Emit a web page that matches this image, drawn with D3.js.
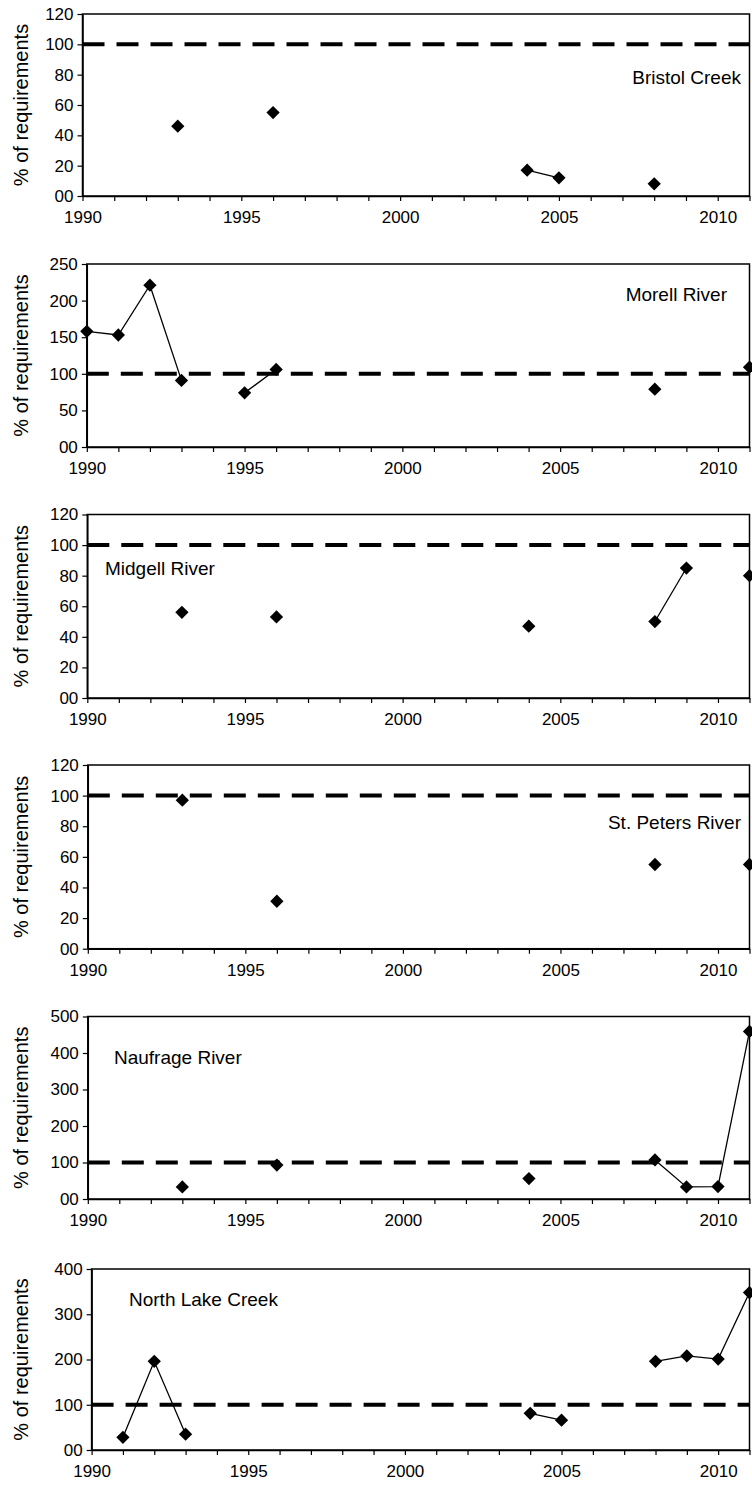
<!DOCTYPE html>
<meta charset="utf-8">
<head>
    <meta charset="utf-8">
    <title>% of requirements by river</title>
    <script src="https://d3js.org/d3.v7.min.js"></script>
    <style>
        body {
            margin: 0;
            background: #fff;
            font-family: 'Liberation Sans', Arial, sans-serif;
        }
    </style>
</head>
<body>
<div id="my_dataviz"></div>
<script>
    // Data: one value per year, null where there was no survey
    var years = [1990, 1991, 1992, 1993, 1994, 1995, 1996, 1997, 1998, 1999, 2000,
                 2001, 2002, 2003, 2004, 2005, 2006, 2007, 2008, 2009, 2010, 2011];
    var bristolCreek   = [null, null, null, 46, null, null, 55, null, null, null, null,
                          null, null, null, 17, 12, null, null, 8, null, null, null];
    var morellRiver    = [158, 153, 221, 91, null, 74, 106, null, null, null, null,
                          null, null, null, null, null, null, null, 79, null, null, 109];
    var midgellRiver   = [null, null, null, 56, null, null, 53, null, null, null, null,
                          null, null, null, 47, null, null, null, 50, 85, null, 80];
    var stPetersRiver  = [null, null, null, 97, null, null, 31, null, null, null, null,
                          null, null, null, null, null, null, null, 55, null, null, 55];
    var naufrageRiver  = [null, null, null, 33, null, null, 93, null, null, null, null,
                          null, null, null, 56, null, null, null, 107, 33, 34, 459];
    var northLakeCreek = [null, 28, 196, 35, null, null, null, null, null, null, null,
                          null, null, null, 81, 66, null, null, 196, 208, 201, 348];

    var panelNames = ["Bristol Creek", "Morell River", "Midgell River",
                      "St. Peters River", "Naufrage River", "North Lake Creek"];
    var panelSeries = [bristolCreek, morellRiver, midgellRiver,
                       stPetersRiver, naufrageRiver, northLakeCreek];
    var yMax = [120, 250, 120, 120, 500, 400];
    var yStep = [20, 50, 20, 20, 100, 100];
    var requirement = 100;
    var xLabelYears = [1990, 1995, 2000, 2005, 2010];

    // Layout of each panel (pixels)
    var layout = [
        {top: 14,   bottom: 196,  left: 82.5, labelX: 741, labelY: 70, anchor: "end"},
        {top: 264,  bottom: 447,  left: 86.8, labelX: 727, labelY: 37, anchor: "end"},
        {top: 514.5,bottom: 698,  left: 87.3, labelX: 105, labelY: 60, anchor: "start"},
        {top: 765,  bottom: 948.7,left: 87.8, labelX: 741, labelY: 64, anchor: "end"},
        {top: 1016.5,bottom: 1199,left: 87.8, labelX: 114, labelY: 47, anchor: "start"},
        {top: 1269, bottom: 1450, left: 91.6, labelX: 129, labelY: 37, anchor: "start"}
    ];
    var right = 749.5;

    var svg = d3.select("#my_dataviz")
        .append("svg")
        .attr("width", 752)
        .attr("height", 1485);

    panelNames.forEach(function(name, i) {
        var L = layout[i];
        var w = right - L.left,
            h = L.bottom - L.top;

        var g = svg.append("g")
            .attr("transform", "translate(" + L.left + "," + L.top + ")");

        var x = d3.scaleLinear().domain([1990, 2011]).range([0, w]);
        var y = d3.scaleLinear().domain([0, yMax[i]]).range([h, 0]);

        // frame (top + right)
        g.append("rect")
            .attr("width", w)
            .attr("height", h)
            .attr("fill", "none")
            .attr("stroke", "#000")
            .attr("stroke-width", 1.5);

        // X axis: a tick every year, labels every 5 years
        var xAxis = g.append("g")
            .attr("transform", "translate(0," + h + ")")
            .call(d3.axisBottom(x)
                .tickValues(years)
                .tickSize(5)
                .tickSizeOuter(0)
                .tickPadding(10)
                .tickFormat(function(d) { return xLabelYears.indexOf(d) >= 0 ? d : ""; }));

        // Y axis
        var yAxis = g.append("g")
            .call(d3.axisLeft(y)
                .tickValues(d3.range(0, yMax[i] + 1, yStep[i]))
                .tickSize(5)
                .tickSizeOuter(0)
                .tickPadding(4)
                .tickFormat(function(d) { return d === 0 ? "00" : d; }));

        [xAxis, yAxis].forEach(function(a) {
            a.select(".domain").attr("stroke-width", 1.5);
            a.selectAll(".tick line").attr("stroke-width", 1.2);
            a.selectAll("text")
                .attr("font-family", "'Liberation Sans', Arial, sans-serif")
                .attr("font-size", 17)
                .attr("fill", "#000");
        });

        // 100% requirement line
        g.append("line")
            .attr("x1", 0)
            .attr("x2", w)
            .attr("y1", y(requirement))
            .attr("y2", y(requirement))
            .attr("stroke", "#000")
            .attr("stroke-width", 4)
            .attr("stroke-dasharray", "22,12");

        var points = years.map(function(yr, j) { return {year: yr, value: panelSeries[i][j]}; });

        // lines only join consecutive years
        var line = d3.line()
            .defined(function(d) { return d.value !== null; })
            .x(function(d) { return x(d.year); })
            .y(function(d) { return y(d.value); });

        g.append("path")
            .datum(points)
            .attr("fill", "none")
            .attr("stroke", "#000")
            .attr("stroke-width", 1.3)
            .attr("d", line);

        // diamond markers
        g.selectAll(".marker")
            .data(points.filter(function(d) { return d.value !== null; }))
            .enter().append("path")
            .attr("class", "marker")
            .attr("d", d3.symbol().type(d3.symbolSquare).size(88))
            .attr("transform", function(d) {
                return "translate(" + x(d.year) + "," + y(d.value) + ") rotate(45)";
            })
            .attr("fill", "#000");

        // river name
        g.append("text")
            .attr("x", L.labelX - L.left)
            .attr("y", L.labelY)
            .attr("text-anchor", L.anchor)
            .attr("font-size", 19)
            .text(name);

        // y axis title
        svg.append("text")
            .attr("transform", "translate(28," + (L.top + h / 2) + ") rotate(-90)")
            .attr("text-anchor", "middle")
            .attr("font-size", 20)
            .text("% of requirements");
    });
</script>
</body>
